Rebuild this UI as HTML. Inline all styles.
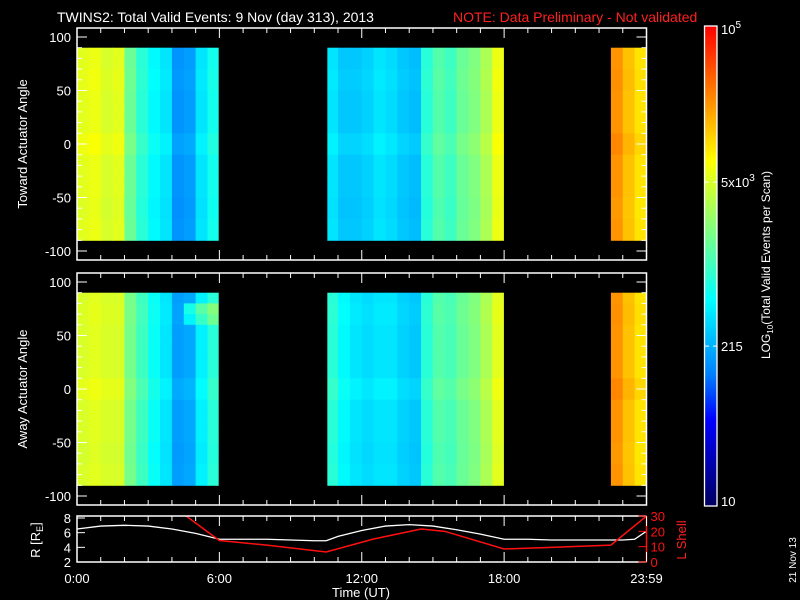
<!DOCTYPE html>
<html><head><meta charset="utf-8"><style>
html,body{margin:0;padding:0;background:#000;width:800px;height:600px;overflow:hidden}
svg{display:block;font-family:"Liberation Sans",sans-serif}
</style></head><body>
<svg id="c" width="800" height="600" viewBox="0 0 800 600">
<rect width="800" height="600" fill="#000"/>
<text x="57" y="22" fill="#fff" font-size="14">TWINS2: Total Valid Events:  9 Nov (day 313), 2013</text>
<text x="453" y="22" fill="#ff2020" font-size="14">NOTE: Data Preliminary - Not validated</text>
<g id="p1"></g>
<g id="p2"></g>
<g id="p3"></g>
<g id="cb"></g>
<text transform="translate(27,144) rotate(-90)" text-anchor="middle" fill="#fff" font-size="13">Toward Actuator Angle</text>
<text transform="translate(27,389) rotate(-90)" text-anchor="middle" fill="#fff" font-size="13">Away Actuator Angle</text>
<text transform="translate(40,540) rotate(-90)" text-anchor="middle" fill="#fff" font-size="13">R [R<tspan font-size="9" dy="3">E</tspan><tspan dy="-3">]</tspan></text>
<text transform="translate(686,540) rotate(-90)" text-anchor="middle" fill="#ff2020" font-size="13">L Shell</text>
<text x="361" y="597" text-anchor="middle" fill="#fff" font-size="13">Time (UT)</text>
<text transform="translate(770,265) rotate(-90)" text-anchor="middle" fill="#fff" font-size="12">LOG<tspan font-size="8" dy="3">10</tspan><tspan dy="-3">(Total Valid Events per Scan)</tspan></text>
<text transform="translate(796,560) rotate(-90)" text-anchor="middle" fill="#fff" font-size="10">21 Nov 13</text>
</svg>
<script>
// Spectrogram data: log10 counts in 30-min bins (null = no data)
const towardTime=[3.75,3.8,3.7,3.75,3.2,2.9,2.7,2.6,2.2,2.25,2.6,2.8,
 null,null,null,null,null,null,null,null,null,
 2.6,2.45,2.45,2.5,2.6,2.55,2.45,2.4,2.9,3.1,3.0,3.2,3.3,3.5,3.8,
 null,null,null,null,null,null,null,null,null,4.35,4.15,4.0];
const awayTime=[3.7,3.75,3.7,3.7,3.25,3.0,2.75,2.6,2.25,2.3,2.65,2.9,
 null,null,null,null,null,null,null,null,null,
 2.9,2.7,2.6,2.55,2.6,2.6,2.5,2.45,2.9,3.1,3.05,3.2,3.3,3.5,3.75,
 null,null,null,null,null,null,null,null,null,4.35,4.15,4.0];
// angle offsets, rows of 10 deg from +90 down to -90
const towardAngle=[0,0,0.02,0.02,0,0,0,0,0.06,0.06,0,0,0,0,-0.02,-0.02,0,0];
const awayAngle=[0,0.02,0.02,0,0,0,0,0,0.06,0.06,0,0,0,0,-0.02,-0.02,0,0];
// localized feature in away panel: [bin, row, offset]
const awayBand=[[9,1,0.5],[10,1,0.45],[11,1,0.4],[9,2,0.35],[10,2,0.3],[11,2,0.3]];
// orbit
const rTimes=[0,1,2,3,4,5,6,7,8,9,10,10.5,11,12,13,14,15,16,17,18,19,20,21,22,23,23.5,24];
const rVals=[6.5,6.9,7.0,6.9,6.5,5.9,5.1,5.1,5.1,5.0,4.9,4.9,5.5,6.3,6.9,7.1,6.9,6.4,5.8,5.1,5.1,5.0,5.0,5.0,5.0,5.1,6.2];
const lTimes=[4.6,6,8,10.5,12.5,14.5,15.5,18,20,22.5,24];
const lVals=[30,14,11,6.5,15,21.5,20,8.5,9.5,11,30];
const timeTicks=["0:00","6:00","12:00","18:00","23:59"];
const angleTicks=[100,50,0,-50,-100];
const rTicks=[2,4,6,8];
const lTicks=[0,10,20,30];

const NS="http://www.w3.org/2000/svg";
function mk(parent,tag,attrs){const e=document.createElementNS(NS,tag);for(const k in attrs)e.setAttribute(k,attrs[k]);parent.appendChild(e);return e;}
const X0=77,X1=646.5;
const xT=h=>X0+(X1-X0)*h/24;
const stops=[[1,[0,0,96]],[1.72,[0,0,255]],[2.1,[0,128,255]],[2.72,[0,255,255]],[3.3,[128,255,128]],[3.88,[255,255,0]],[4.44,[255,128,0]],[5,[255,0,0]]];
function col(v){v=Math.max(1,Math.min(5,v));for(let i=1;i<stops.length;i++){if(v<=stops[i][0]){const a=stops[i-1],b=stops[i],t=(v-a[0])/(b[0]-a[0]);const c=a[1].map((q,j)=>Math.round(q+(b[1][j]-q)*t));return`rgb(${c})`;}}return"rgb(255,0,0)";}

function anglePanel(g,y0,times,angles,band,name){
  const yA=a=>y0-a*1.07;
  const ends={11:5.95,35:17.97};const starts={21:10.55,45:22.5};
  times.forEach((v,i)=>{if(v===null)return;
    const h0=starts[i]!==undefined?starts[i]:i*0.5;
    const h1=ends[i]!==undefined?ends[i]:(i+1)*0.5;
    angles.forEach((o,r)=>{const a0=90-r*10;
      let extra=0;band.forEach(b=>{if(b[0]===i&&b[1]===r)extra+=b[2];});
      const el=mk(g,'rect',{x:xT(h0),y:yA(a0),width:xT(h1)-xT(h0)+0.5,height:10*1.07+0.5,fill:col(v+o+extra)});
      
      
    });
  });
  const top=y0-116,bot=y0+116;
  const fr=mk(g,'rect',{x:X0,y:top,width:X1-X0,height:bot-top,fill:'none',stroke:'#fff','stroke-width':1.5});
  
  
  for(let a=-100;a<=100;a+=10){const L=a%50===0?10:5;const y=yA(a);
    mk(g,'line',{x1:X0,x2:X0+L,y1:y,y2:y,stroke:'#fff'});mk(g,'line',{x1:X1,x2:X1-L,y1:y,y2:y,stroke:'#fff'});}
  for(let h=0;h<=24;h++){const L=h%6===0?10:5;const x=xT(h);
    mk(g,'line',{x1:x,x2:x,y1:top,y2:top+L,stroke:'#fff'});mk(g,'line',{x1:x,x2:x,y1:bot,y2:bot-L,stroke:'#fff'});}
  angleTicks.forEach(a=>{const t=mk(g,'text',{x:X0-6,y:yA(a)+5,'text-anchor':'end',fill:'#fff','font-size':13});t.textContent=a;
    
    });
}
anglePanel(document.getElementById('p1'),144,towardTime,towardAngle,[],'toward');
anglePanel(document.getElementById('p2'),389,awayTime,awayAngle,awayBand,'away');

// orbit panel
const g3=document.getElementById('p3');
const T3=516,B3=562;
const yR=r=>562-(r-2)/6*44;
const yL=l=>562-l/30*46;
mk(g3,'polyline',{points:rTimes.map((t,i)=>xT(t)+','+yR(rVals[i])).join(' '),fill:'none',stroke:'#fff','stroke-width':1.3,});
const cp=mk(g3,'clipPath',{id:'cl'});mk(cp,'rect',{x:X0,y:T3,width:X1-X0,height:B3-T3});
mk(g3,'polyline',{points:lTimes.map((t,i)=>xT(t)+','+yL(lVals[i])).join(' '),fill:'none',stroke:'#ff1010','stroke-width':1.5,'clip-path':'url(#cl)',});
mk(g3,'polyline',{points:`${X1},${T3} ${X0},${T3} ${X0},${B3} ${X1},${B3}`,fill:'none',stroke:'#fff','stroke-width':1.5});
mk(g3,'line',{x1:X1,x2:X1,y1:T3,y2:B3,stroke:'#ff1010','stroke-width':1.5});
for(let h=0;h<=24;h++){const L=h%6===0?10:5;const x=xT(h);
  mk(g3,'line',{x1:x,x2:x,y1:T3,y2:T3+L,stroke:'#fff'});mk(g3,'line',{x1:x,x2:x,y1:B3,y2:B3-L,stroke:'#fff'});}
rTicks.forEach(r=>{mk(g3,'line',{x1:X0,x2:X0+8,y1:yR(r),y2:yR(r),stroke:'#fff'});
  const t=mk(g3,'text',{x:X0-6,y:yR(r)+5,'text-anchor':'end',fill:'#fff','font-size':13});t.textContent=r;
  
  });
lTicks.forEach(l=>{mk(g3,'line',{x1:X1,x2:X1-8,y1:yL(l),y2:yL(l),stroke:'#ff1010'});
  const t=mk(g3,'text',{x:X1+4,y:yL(l)+5,fill:'#ff1010','font-size':13});t.textContent=l;
  
  });
[0,6,12,18,24].forEach((h,i)=>{const t=mk(g3,'text',{x:xT(h),y:583,'text-anchor':'middle',fill:'#fff','font-size':13});t.textContent=timeTicks[i];
  
  });

// colorbar
const cb=document.getElementById('cb');
const CT=26,CB=506;
for(let i=0;i<240;i++){const v=1+4*(i+0.5)/240;mk(cb,'rect',{x:705,y:CB-(i+1)*2,width:12,height:2.2,fill:col(v)});}
mk(cb,'rect',{x:704.5,y:CT,width:12.5,height:CB-CT,fill:'none',stroke:'#fff','stroke-width':1.3});
const cbl=[[5,'10','5'],[Math.log10(5000),'5x10','3'],[Math.log10(215),'215',''],[1,'10','']];
cbl.forEach(([v,s,sup])=>{const y=CB-(v-1)/4*(CB-CT);
  mk(cb,'line',{x1:705,x2:709,y1:y,y2:y,stroke:'#fff'});mk(cb,'line',{x1:713,x2:717,y1:y,y2:y,stroke:'#fff'});
  const t=mk(cb,'text',{x:721,y:y+(v===5?8:v===1?0:5),fill:'#fff','font-size':13});t.textContent=s;
  if(sup){const ts=mk(t,'tspan',{dy:-6,'font-size':10});ts.textContent=sup;}
  
  });
</script>
</body></html>
